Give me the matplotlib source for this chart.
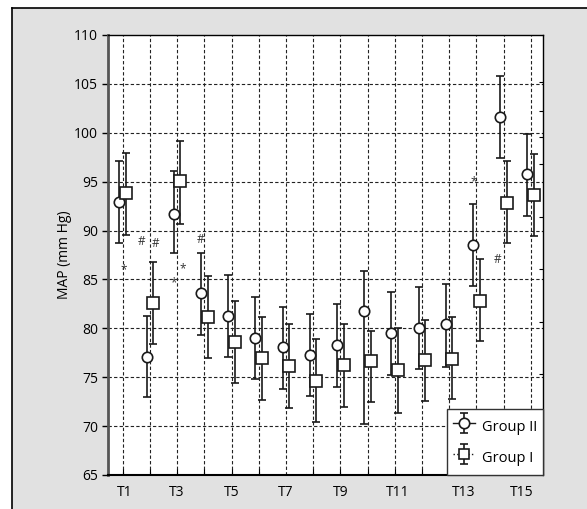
import numpy as np
import matplotlib
matplotlib.use("Agg")
import matplotlib.pyplot as plt
from matplotlib.patches import Rectangle
from matplotlib.lines import Line2D
from matplotlib.legend_handler import HandlerErrorbar

plt.rcParams['font.family'] = ['Open Sans', 'DejaVu Sans']

# time points (16 measurement positions, labelled every other one)
pos = np.arange(1, 17)
tick_labels = ['T1', 'T3', 'T5', 'T7', 'T9', 'T11', 'T13', 'T15']
tick_label_pos = [1.08, 2.99, 5.02, 7.0, 9.01, 11.12, 13.55, 15.67]

# Group II (circles): mean, lower end, upper end of bar
g2_mean = [92.9, 77.1, 91.7, 83.6, 81.3, 79.0, 78.1, 77.3, 78.3, 81.8, 79.5, 80.0, 80.4, 88.5, 101.6, 95.8]
g2_low = [88.7, 73.0, 87.7, 79.3, 77.1, 74.8, 73.8, 73.1, 74.0, 70.2, 75.2, 75.8, 76.0, 84.3, 97.4, 91.5]
g2_high = [97.1, 81.3, 96.1, 87.7, 85.5, 83.2, 82.2, 81.5, 82.5, 85.9, 83.7, 84.2, 84.5, 92.7, 105.8, 99.9]

# Group I (squares)
g1_mean = [93.8, 82.6, 95.1, 81.2, 78.6, 77.0, 76.1, 74.6, 76.2, 76.7, 75.7, 76.8, 76.9, 82.8, 92.8, 93.6]
g1_low = [89.5, 78.4, 90.7, 77.0, 74.4, 72.7, 71.9, 70.4, 72.0, 72.5, 71.3, 72.6, 72.8, 78.7, 88.7, 89.4]
g1_high = [97.9, 86.8, 99.2, 85.4, 82.8, 81.2, 80.4, 78.9, 80.4, 79.7, 80.0, 80.9, 81.2, 87.1, 97.1, 97.8]

# significance marks
marks_x = [1.02, 1.70, 2.21, 2.86, 3.19, 3.87, 13.89, 14.77]
marks_y = [86.0, 88.9, 88.7, 84.7, 86.1, 89.1, 95.0, 87.0]
marks_s = ['*', '#', '#', '*', '*', '#', '*', '#']

# stray ticks on the right spine
right_ticks = [105.16, 102.26, 99.54, 96.81, 91.42, 86.04, 80.65, 75.30]

fig = plt.figure(figsize=(5.87, 5.09), dpi=100)
fig.patch.set_facecolor('white')
fx, fy = 12 / 587, 1 - 8 / 509
fig.patches.append(Rectangle((fx, 0), 1 - fx, fy, transform=fig.transFigure,
                             facecolor='#e1e1e1', edgecolor='none', zorder=-10))
fig.lines.append(Line2D([fx, 1], [fy, fy], transform=fig.transFigure, color='black', lw=1.2))
fig.lines.append(Line2D([fx, fx], [0, fy], transform=fig.transFigure, color='black', lw=1.2))

ax = fig.add_axes([108 / 587, 1 - 475 / 509, 435 / 587, 440 / 509])
ax.set_facecolor('white')

off = 0.12
col = '#1a1a1a'
ebkw = dict(ecolor=col, elinewidth=1.2, capsize=2.8, capthick=1.2,
            markerfacecolor='white', markeredgecolor=col, markeredgewidth=1.2)

g2_m = np.array(g2_mean)
g1_m = np.array(g1_mean)
ax.errorbar(pos - off, g2_m, yerr=[g2_m - np.array(g2_low), np.array(g2_high) - g2_m],
            fmt='o', ms=7.5, zorder=4, **ebkw)
ax.errorbar(pos + off, g1_m, yerr=[g1_m - np.array(g1_low), np.array(g1_high) - g1_m],
            fmt='s', ms=8.5, zorder=5, **ebkw)

# legend handles (dummy points outside the view)
h2 = ax.errorbar([-5], [0], yerr=[1], fmt='-o', ms=7.5, color=col, lw=1.0, **ebkw)
h1 = ax.errorbar([-5], [0], yerr=[1], fmt=':s', ms=6.5, color=col, lw=1.0, **ebkw)

for x, y, s in zip(marks_x, marks_y, marks_s):
    ax.text(x, y, s, fontsize=8.5, color='#333333', ha='center', va='center', zorder=6)

ax.set_xlim(0.46, 16.45)
ax.set_ylim(65, 110)
ax.set_yticks(np.arange(65, 111, 5))
ax.set_xticks(pos, minor=True)
ax.set_xticks(tick_label_pos)
ax.set_xticklabels(tick_labels)
ax.tick_params(axis='x', which='major', length=0, pad=7, labelsize=10)
ax.tick_params(axis='x', which='minor', direction='in', length=4, width=0.8)
ax.tick_params(axis='y', direction='out', length=4, width=1.0, pad=3, labelsize=10)

for p in pos:
    ax.axvline(p, color='#222222', lw=0.8, ls=(0, (3, 2)), zorder=1)
for v in np.arange(70, 110, 5):
    ax.axhline(v, color='#222222', lw=0.8, ls=(0, (3, 2)), zorder=1)

ax.spines['left'].set_linewidth(2.0)
ax.spines['left'].set_color('#555555')
ax.spines['bottom'].set_linewidth(1.5)
ax.spines['top'].set_linewidth(1.0)
ax.spines['right'].set_linewidth(1.0)

ax2 = ax.twinx()
ax2.set_ylim(65, 110)
ax2.set_yticks(right_ticks)
ax2.set_yticklabels([])
ax2.tick_params(axis='y', direction='in', length=3, width=0.8)
for s in ax2.spines.values():
    s.set_visible(False)

ax.set_ylabel('MAP (mm Hg)', fontsize=10, labelpad=2)

eb_handler = HandlerErrorbar(xerr_size=0.3, yerr_size=0.7)
leg = ax2.legend([h2, h1], ['Group II', 'Group I'], loc='lower right',
                 handler_map={h2: eb_handler, h1: eb_handler},
                 borderaxespad=0, fancybox=False, edgecolor='#333333',
                 framealpha=1, fontsize=10.5, handlelength=1.5, handleheight=2.1,
                 handletextpad=0.5, borderpad=0.4, labelspacing=0.5)
leg.get_frame().set_linewidth(1.0)

fig.savefig('out.png', dpi=100)
